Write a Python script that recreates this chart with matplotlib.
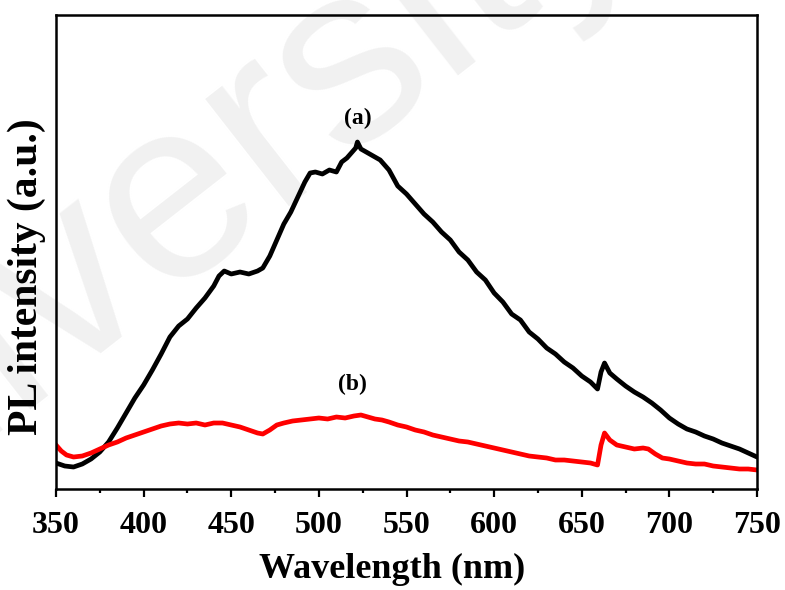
import matplotlib
matplotlib.use("Agg")
import matplotlib.pyplot as plt
from matplotlib.ticker import MultipleLocator

# sample (a), black
wl_a = [350, 355, 360, 365, 370, 375, 380, 385, 390, 395, 400, 405, 410, 415, 420, 425,
        430, 435, 440, 443, 446, 450, 455, 460, 465, 468, 472, 476, 480, 484, 488, 492,
        495, 498, 502, 506, 510, 513, 516, 519, 521, 522, 524, 527, 531, 535, 540, 545,
        550, 555, 560, 565, 570, 575, 580, 585, 590, 595, 600, 605, 610, 615, 620, 625,
        630, 635, 640, 645, 650, 655, 659, 661, 663, 666, 670, 675, 680, 685, 690, 695,
        700, 705, 710, 715, 720, 725, 730, 735, 740, 745, 750]
pl_a = [27, 24, 23, 26, 31, 38, 48, 62, 77, 92, 105, 120, 136, 153, 164, 171,
        182, 192, 204, 214, 219, 216, 218, 216, 219, 222, 234, 250, 266, 278, 293, 308,
        317, 318, 316, 320, 318, 328, 332, 338, 342, 348, 341, 338, 334, 330, 320, 304,
        296, 286, 276, 268, 258, 250, 238, 230, 218, 210, 197, 188, 176, 170, 158, 151,
        142, 136, 128, 122, 114, 108, 101, 118, 127, 117, 111, 104, 98, 93, 87, 80,
        72, 66, 61, 58, 54, 51, 47, 44, 41, 37, 33]

# sample (b), red
wl_b = [350, 353, 356, 360, 365, 370, 375, 380, 385, 390, 395, 400, 405, 410, 415, 420,
        425, 430, 435, 440, 445, 450, 455, 460, 465, 468, 472, 476, 480, 485, 490, 495,
        500, 505, 510, 515, 520, 524, 528, 532, 536, 540, 545, 550, 555, 560, 565, 570,
        575, 580, 585, 590, 595, 600, 605, 610, 615, 620, 625, 630, 635, 640, 645, 650,
        655, 659, 661, 663, 666, 670, 675, 680, 685, 688, 692, 696, 700, 705, 710, 715,
        720, 725, 730, 735, 740, 745, 750]
pl_b = [45, 39, 35, 33, 34, 37, 41, 45, 48, 52, 55, 58, 61, 64, 66, 67,
        66, 67, 65, 67, 67, 65, 63, 60, 57, 56, 60, 65, 67, 69, 70, 71,
        72, 71, 73, 72, 74, 75, 73, 71, 70, 68, 65, 63, 60, 58, 55, 53,
        51, 49, 48, 46, 44, 42, 40, 38, 36, 34, 33, 32, 30, 30, 29, 28,
        27, 25, 45, 57, 50, 45, 43, 41, 42, 41, 36, 32, 31, 29, 27, 26,
        26, 24, 23, 22, 21, 21, 20]

plt.rcParams['font.family'] = ['Liberation Serif', 'DejaVu Serif']
plt.rcParams['font.weight'] = 'bold'

fig = plt.figure(figsize=(7.85, 5.9), dpi=100)
ax = fig.add_axes([56 / 785, 1 - 489 / 590, 701 / 785, 474 / 590])
ax.set_facecolor('none')

# faint watermark behind the plot
fig.text(0.2, 0.645, "University", fontsize=185, color='#f1f1f1', rotation=38,
         ha='center', va='center', family='Liberation Sans', fontweight='normal', zorder=-1)

ax.plot(wl_a, pl_a, color='black', lw=3.4)
ax.plot(wl_b, pl_b, color='red', lw=3.4)

ax.text(522, 372, "(a)", fontsize=17, fontweight='bold', ha='center', va='center')
ax.text(519, 106, "(b)", fontsize=17, fontweight='bold', ha='center', va='center')

ax.set_xlim(350, 750)
ax.set_ylim(1, 475)
ax.xaxis.set_major_locator(MultipleLocator(50))
ax.xaxis.set_minor_locator(MultipleLocator(25))
ax.set_yticks([])
ax.tick_params(axis='x', which='major', direction='out', length=6, width=1.6,
               labelsize=23, pad=10)
ax.tick_params(axis='x', which='minor', direction='out', length=3, width=1.6)
for lab in ax.get_xticklabels():
    lab.set_fontweight('bold')
for s in ax.spines.values():
    s.set_linewidth(1.8)

ax.set_xlabel("Wavelength (nm)", fontsize=26, fontweight='bold')
ax.xaxis.set_label_coords(0.48, -0.134)
ax.set_ylabel("PL intensity (a.u.)", fontsize=30, fontweight='bold')
ax.yaxis.set_label_coords(-0.014, 0.447)

fig.savefig("out.png", dpi=100)
